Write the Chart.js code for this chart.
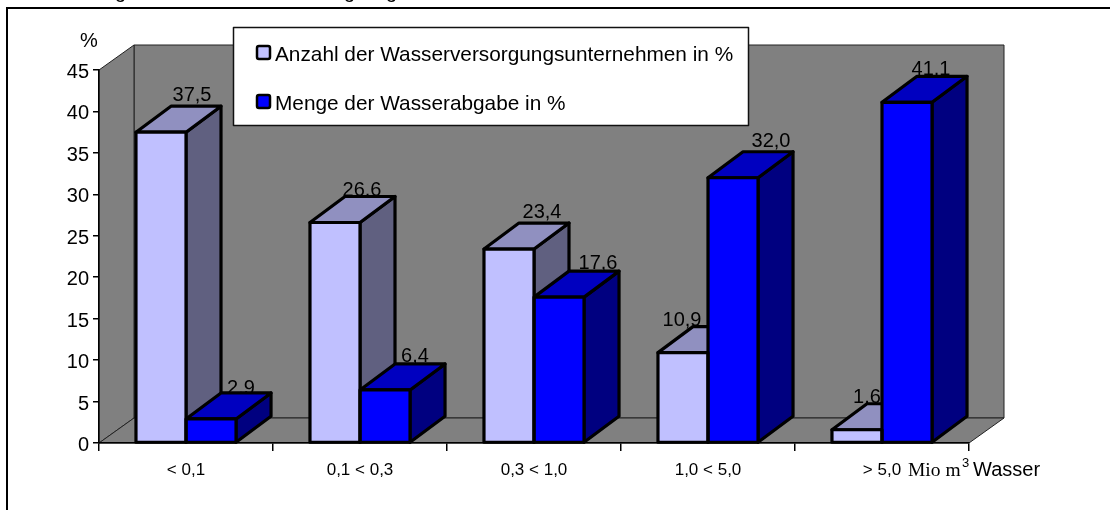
<!DOCTYPE html>
<html>
<head>
<meta charset="utf-8">
<style>
  html, body { margin: 0; padding: 0; background: #fff; }
  #wrap { position: relative; width: 1110px; height: 510px; overflow: hidden; }
</style>
<script src="https://cdn.jsdelivr.net/npm/chart.js@4"></script>
</head>
<body>
<div id="wrap"><canvas id="barChart" width="1110" height="510"></canvas></div>
<script>
const categories = ['< 0,1', '0,1 < 0,3', '0,3 < 1,0', '1,0 < 5,0', '> 5,0'];
const anzahl = [37.5, 26.6, 23.4, 10.9, 1.6];
const menge = [2.9, 6.4, 17.6, 32.0, 41.1];
const yTicks = [0, 5, 10, 15, 20, 25, 30, 35, 40, 45];

// value labels were placed by hand in the original: shift from bar centre, lift above back edge
const labelShift = [[31, 27, 33, -1, 10], [30, 30, 39, 38, 24]];
const labelLift = [[5.5, 1, 5, 1, 1], [-1, 2, 2, 4.5, 1]];

const wallDepthX = 35;
const wallDepthY = -25;
const barDepthY = -26;
const sans = '"Liberation Sans", Arial, sans-serif';

function poly(ctx, pts, fill, stroke, lineWidth) {
    ctx.beginPath();
    pts.forEach((p, i) => i ? ctx.lineTo(p[0], p[1]) : ctx.moveTo(p[0], p[1]));
    ctx.closePath();
    if (fill) { ctx.fillStyle = fill; ctx.fill(); }
    if (stroke) { ctx.strokeStyle = stroke; ctx.lineWidth = lineWidth; ctx.lineJoin = 'round'; ctx.stroke(); }
}

const walls = {
    id: 'walls',
    beforeDraw(chart) {
        const { ctx, chartArea: a } = chart;
        const dx = wallDepthX, dy = wallDepthY;
        ctx.save();
        // descenders of a caption that is cut off by the top of the picture
        ctx.fillStyle = '#000';
        ctx.font = '20px ' + sans;
        [115, 344, 386].forEach(x => ctx.fillText('g', x, -2));
        // outer frame, runs off the picture on the right and at the bottom
        ctx.strokeStyle = '#000';
        ctx.lineWidth = 2;
        ctx.beginPath();
        ctx.moveTo(7, 520);
        ctx.lineTo(7, 8);
        ctx.lineTo(1120, 8);
        ctx.stroke();
        // back wall, side wall, floor
        poly(ctx, [[a.left + dx, a.top + dy], [a.right + dx, a.top + dy], [a.right + dx, a.bottom + dy], [a.left + dx, a.bottom + dy]], '#808080', '#222', 1);
        poly(ctx, [[a.left, a.top], [a.left + dx, a.top + dy], [a.left + dx, a.bottom + dy], [a.left, a.bottom]], '#808080', '#222', 1);
        poly(ctx, [[a.left, a.bottom], [a.left + dx, a.bottom + dy], [a.right + dx, a.bottom + dy], [a.right, a.bottom]], '#808080', '#222', 1);
        ctx.restore();
    },
    beforeDatasetsDraw(chart) {
        const { ctx } = chart;
        ctx.save();
        // value labels go under the bars, the picture has them cut by the top faces
        ctx.fillStyle = '#000';
        ctx.font = '20px ' + sans;
        ctx.textAlign = 'center';
        ctx.textBaseline = 'alphabetic';
        chart.data.datasets.forEach((ds, d) => {
            chart.getDatasetMeta(d).data.forEach((bar, i) => {
                const text = ds.data[i].toFixed(1).replace('.', ',');
                ctx.fillText(text, bar.x + labelShift[d][i], bar.y + barDepthY - labelLift[d][i]);
            });
        });
        // top and side faces, light bars first, the library then fills the fronts
        chart.data.datasets.forEach((ds, d) => {
            chart.getDatasetMeta(d).data.forEach(bar => {
                const l = bar.x - bar.width / 2;
                const r = bar.x + bar.width / 2;
                const t = bar.y;
                const b = bar.base;
                poly(ctx, [[r, t], [r + wallDepthX, t + barDepthY], [r + wallDepthX, b + barDepthY], [r, b]], ds.sideColor, '#000', 3.2);
                poly(ctx, [[l, t], [l + wallDepthX, t + barDepthY], [r + wallDepthX, t + barDepthY], [r, t]], ds.topColor, '#000', 3.2);
            });
        });
        ctx.restore();
    },
    afterDatasetsDraw(chart) {
        // outline of the fronts, centred on the bar edges like the faces
        const { ctx } = chart;
        ctx.save();
        chart.data.datasets.forEach((ds, d) => {
            chart.getDatasetMeta(d).data.forEach(bar => {
                const l = bar.x - bar.width / 2;
                const r = bar.x + bar.width / 2;
                poly(ctx, [[l, bar.y], [r, bar.y], [r, bar.base], [l, bar.base]], null, '#000', 3.2);
            });
        });
        ctx.restore();
    },
    afterDraw(chart) {
        const { ctx } = chart;
        ctx.save();
        ctx.textBaseline = 'alphabetic';
        ctx.textAlign = 'left';
        ctx.fillStyle = '#000';
        ctx.font = '20px ' + sans;
        ctx.fillText('%', 80, 47);

        // unit text after the last category
        ctx.font = '19.5px "Liberation Serif", "Times New Roman", serif';
        ctx.fillText('Mio m', 908, 476);
        ctx.font = '13px ' + sans;
        ctx.fillText('3', 962, 467);
        ctx.font = '20px ' + sans;
        ctx.fillText('Wasser', 973, 476);

        // legend box
        poly(ctx, [[233.5, 27.5], [748.5, 27.5], [748.5, 125.5], [233.5, 125.5]], '#fff', '#111', 1.5);
        ctx.font = '20.8px ' + sans;
        chart.data.datasets.forEach((ds, d) => {
            const y = 45 + d * 49;
            ctx.beginPath();
            ctx.roundRect(257, y + 1, 13, 13, 2);
            ctx.fillStyle = ds.backgroundColor;
            ctx.fill();
            ctx.strokeStyle = '#000';
            ctx.lineWidth = 2.5;
            ctx.stroke();
            ctx.fillStyle = '#000';
            ctx.fillText(ds.label, 275, y + 16);
        });
        ctx.restore();
    }
};

new Chart(document.getElementById('barChart').getContext('2d'), {
    type: 'bar',
    plugins: [walls],
    data: {
        labels: categories,
        datasets: [{
            label: 'Anzahl der Wasserversorgungsunternehmen in %',
            data: anzahl,
            backgroundColor: '#c0c0ff',
            topColor: '#9090c0',
            sideColor: '#606080'
        }, {
            label: 'Menge der Wasserabgabe in %',
            data: menge,
            backgroundColor: '#0000ff',
            topColor: '#0000c0',
            sideColor: '#000080'
        }]
    },
    options: {
        responsive: false,
        animation: false,
        layout: { padding: { top: 70, right: 141, left: 0, bottom: 0 } },
        datasets: {
            bar: {
                categoryPercentage: 0.575,
                barPercentage: 1,
                borderWidth: 0
            }
        },
        plugins: { legend: { display: false }, tooltip: { enabled: false } },
        scales: {
            x: {
                afterFit(scale) { scale.height = 67; },
                grid: { drawOnChartArea: false, color: '#000', lineWidth: 1.5, tickLength: 8 },
                border: { color: '#000', width: 1.5 },
                ticks: { color: '#000', font: { family: sans, size: 17 }, padding: 9, maxRotation: 0 }
            },
            y: {
                min: 0,
                max: 45,
                afterFit(scale) { scale.width = 99; },
                afterBuildTicks(scale) { scale.ticks = yTicks.map(v => ({ value: v })); },
                grid: { drawOnChartArea: false, color: '#000', lineWidth: 1.5, tickLength: 6 },
                border: { color: '#000', width: 1.5 },
                ticks: { color: '#000', font: { family: sans, size: 20 }, padding: 4, labelOffset: 2.5 }
            }
        }
    }
});
</script>
</body>
</html>
